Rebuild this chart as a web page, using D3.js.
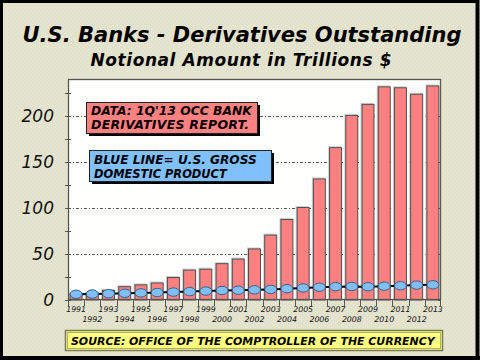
<!DOCTYPE html>
<html><head><meta charset="utf-8">
<script src="https://cdn.jsdelivr.net/npm/d3@7"></script>
<style>html,body{margin:0;padding:0;background:#fff}svg{display:block}</style>
</head><body><svg id="c" width="480" height="360"></svg>
<script>
const years = [1991,1992,1993,1994,1995,1996,1997,1998,1999,2000,2001,2002,2003,2004,2005,2006,2007,2008,2009,2010,2011,2012,2013];
const derivatives = [7,8,11,15,17,19,25,33,34,40,45,56,71,88,101,132,166,201,213,232,231,224,233];
const gdp = [6.2,6.5,6.9,7.3,7.7,8.1,8.6,9.1,9.7,10.3,10.6,11.0,11.5,12.3,13.1,13.9,14.5,14.7,14.4,15.0,15.5,16.2,16.5];
const yTicks = [0,50,100,150,200];
const yMinor = [25,75,125,175,225];
const title = "U.S. Banks - Derivatives Outstanding";
const subtitle = "Notional Amount in Trillions $";
const note1 = ["DATA: 1Q'13 OCC BANK","DERIVATIVES REPORT."];
const note2 = ["BLUE LINE= U.S. GROSS","DOMESTIC PRODUCT"];
const source = "SOURCE: OFFICE OF THE COMPTROLLER OF THE CURRENCY";

const svg = d3.select("#c");
const F = "'DejaVu Sans', Verdana, sans-serif";

// fit text to a target width: shrink font if too wide, stretch spacing if narrower
function fit(sel, size, target){
  sel.attr("font-size", size);
  const w = sel.node().getComputedTextLength();
  if (w > target) sel.attr("font-size", size*target/w);
  else sel.attr("textLength", target).attr("lengthAdjust","spacing");
  return sel;
}

const defs = svg.append("defs");
const pat = defs.append("pattern").attr("id","dots").attr("width",4).attr("height",4).attr("patternUnits","userSpaceOnUse");
pat.append("rect").attr("width",4).attr("height",4).attr("fill","#e2e2cc");
pat.append("rect").attr("x",1).attr("y",1).attr("width",1).attr("height",1).attr("fill","#eeeedc");
pat.append("rect").attr("x",3).attr("y",3).attr("width",1).attr("height",1).attr("fill","#ececd8");

svg.append("rect").attr("x",0).attr("y",0).attr("width",480).attr("height",360).attr("fill","url(#dots)");
svg.append("rect").attr("x",1.5).attr("y",1.5).attr("width",476).attr("height",356).attr("fill","none").attr("stroke","#000").attr("stroke-width",3);
svg.append("line").attr("x1",477.5).attr("x2",477.5).attr("y1",0).attr("y2",360).attr("stroke","#000").attr("stroke-width",4);
svg.append("line").attr("x1",0).attr("x2",480).attr("y1",358).attr("y2",358).attr("stroke","#000").attr("stroke-width",4);

fit(svg.append("text").attr("x",242).attr("y",42).attr("text-anchor","middle")
  .attr("font-family",F).attr("font-weight","bold").attr("font-style","italic").text(title), 22, 439);
fit(svg.append("text").attr("x",241).attr("y",66).attr("text-anchor","middle")
  .attr("font-family",F).attr("font-weight","bold").attr("font-style","italic").text(subtitle), 17, 301);

const L=68, R=441, T=79, B=300;
const x = d3.scaleBand().domain(years).range([L,R]).paddingInner(0.2).paddingOuter(0.1);
const y = d3.scaleLinear().domain([0,240]).range([B,T]);

svg.append("rect").attr("x",L).attr("y",T).attr("width",R-L).attr("height",B-T).attr("fill","#fefefc");

// gridlines
svg.append("g").selectAll("line").data(yTicks.filter(d=>d>0)).join("line")
  .attr("x1",L).attr("x2",R).attr("y1",d=>Math.round(y(d))+0.5).attr("y2",d=>Math.round(y(d))+0.5)
  .attr("stroke","#555").attr("stroke-width",1).attr("stroke-dasharray","3,2,1,2");

// bars
const bars = svg.append("g");
bars.selectAll("rect.sh").data(years).join("rect").attr("class","sh")
  .attr("x",d=>x(d)-1).attr("y",(d,i)=>y(derivatives[i])-1)
  .attr("width",x.bandwidth()).attr("height",(d,i)=>B-y(derivatives[i])+1)
  .attr("fill","#d0d0d0");
bars.selectAll("rect.b").data(years).join("rect").attr("class","b")
  .attr("x",d=>x(d)+0.5).attr("y",(d,i)=>y(derivatives[i])+0.5)
  .attr("width",x.bandwidth()-1).attr("height",(d,i)=>B-y(derivatives[i])-0.5)
  .attr("fill","#ff8080").attr("stroke","#505050").attr("stroke-width",1);

// gdp line
const cx = d=>x(d)+x.bandwidth()/2;
svg.append("path").datum(years).attr("fill","none").attr("stroke","#000").attr("stroke-width",2)
  .attr("d", d3.line().x(d=>cx(d)).y((d,i)=>y(gdp[i]))(years));
svg.append("g").selectAll("ellipse").data(years).join("ellipse")
  .attr("cx",d=>cx(d)).attr("cy",(d,i)=>y(gdp[i])).attr("rx",6).attr("ry",4.2)
  .attr("fill","#80bff5").attr("stroke","#3a5f8f").attr("stroke-width",1);

// plot border
svg.append("rect").attr("x",L+0.5).attr("y",T+0.5).attr("width",R-L-1).attr("height",B-T-1)
  .attr("fill","none").attr("stroke","#555").attr("stroke-width",1.3);

// y axis
const ya = svg.append("g");
ya.selectAll("line.maj").data(yTicks.concat(yMinor)).join("line")
  .attr("x1",L-3).attr("x2",L+3).attr("y1",d=>Math.round(y(d))+0.5).attr("y2",d=>Math.round(y(d))+0.5)
  .attr("stroke","#555");
ya.selectAll("line.r").data(yTicks).join("line")
  .attr("x1",R-3).attr("x2",R).attr("y1",d=>Math.round(y(d))+0.5).attr("y2",d=>Math.round(y(d))+0.5)
  .attr("stroke","#555");
ya.selectAll("text").data(yTicks).join("text")
  .attr("x",54).attr("y",d=>y(d)+6).attr("text-anchor","end")
  .attr("font-family",F).attr("font-style","italic").attr("font-size",17).attr("fill","#111")
  .text(d=>d);

// x axis
const step = x.step();
svg.append("g").selectAll("line").data(years).join("line")
  .attr("x1",d=>Math.round(x(d)-step*0.1)+0.5).attr("x2",d=>Math.round(x(d)-step*0.1)+0.5)
  .attr("y1",B).attr("y2",B+6).attr("stroke","#555");
svg.append("line").attr("x1",R-0.5).attr("x2",R-0.5).attr("y1",B).attr("y2",B+6).attr("stroke","#555");
svg.append("g").selectAll("text").data(years).join("text")
  .attr("x",d=>cx(d)).attr("y",(d,i)=>i%2===0?312:322).attr("text-anchor","middle")
  .attr("font-family",F).attr("font-style","italic").attr("font-size",7.8).attr("fill","#111")
  .text(d=>d);

// notes
function note(x0,y0,w,h,fill,lines,widths,tx,ty){
  const g=svg.append("g");
  g.append("rect").attr("x",x0+3).attr("y",y0+3).attr("width",w).attr("height",h).attr("fill","#000");
  g.append("rect").attr("x",x0+0.5).attr("y",y0+0.5).attr("width",w).attr("height",h).attr("fill",fill).attr("stroke","#222");
  lines.forEach((t,i)=>fit(g.append("text").attr("x",tx).attr("y",ty+i*14)
    .attr("font-family",F).attr("font-weight","bold").attr("font-style","italic")
    .attr("fill","#000").text(t), 12.5, widths[i]));
}
note(86,102,171,31,"#ff8080",note1,[161,158],91,115);
note(89,150,182,31,"#80c0ff",note2,[163,133],94,163.5);

// source box
svg.append("rect").attr("x",65.5).attr("y",330.5).attr("width",377).attr("height",20).attr("fill","#ffff80").attr("stroke","#7a7a50").attr("stroke-width",1.5);
svg.append("rect").attr("x",67.5).attr("y",332.5).attr("width",373).attr("height",16).attr("fill","none").attr("stroke","#b0b070").attr("stroke-width",1);
fit(svg.append("text").attr("x",71).attr("y",344.5)
  .attr("font-family",F).attr("font-weight","bold").attr("font-style","italic").text(source), 13, 364);
</script></body></html>
